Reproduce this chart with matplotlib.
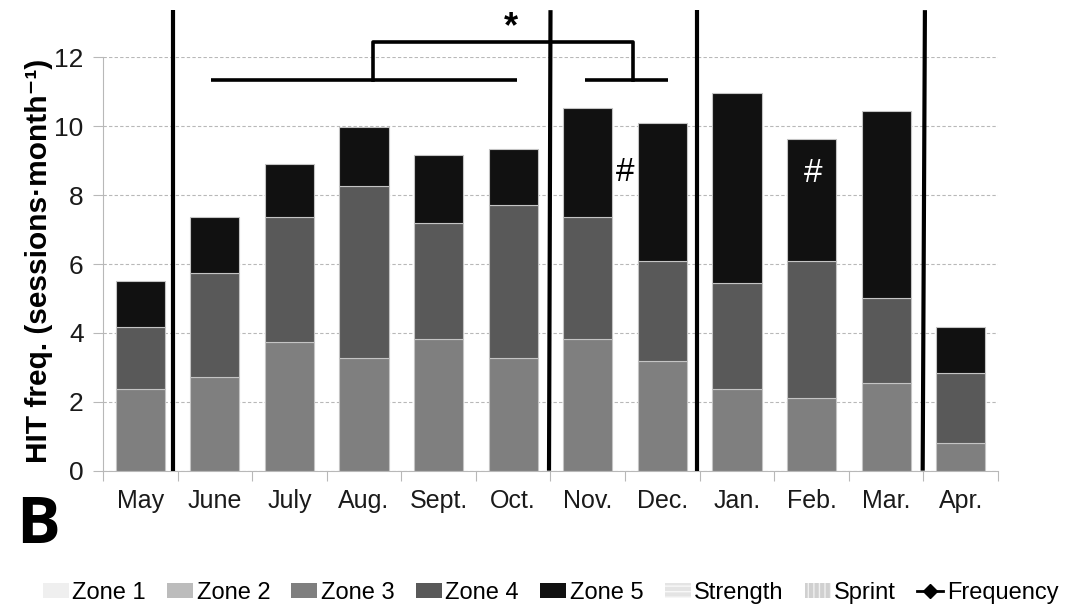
from matplotlib import pyplot as plt
from matplotlib.patches import Patch
from matplotlib.lines import Line2D
import numpy as np

months = ['May', 'June', 'July', 'Aug.', 'Sept.', 'Oct.', 'Nov.', 'Dec.', 'Jan.', 'Feb.', 'Mar.', 'Apr.']
# cumulative tops, turned into per-zone heights below
zone1 = [0, 0, 0, 0, 0, 0, 0, 0, 0, 0, 0, 0]
zone2 = [0, 0, 0, 0, 0, 0, 0, 0, 0, 0, 0, 0]
zone3 = [2.37, 2.73, 3.73, 3.26, 3.81, 3.26, 3.81, 3.18, 2.37, 2.10, 2.55, 0.81]
zone4 = [1.81, 3.00, 3.63, 5.00, 3.37, 4.45, 3.56, 2.91, 3.07, 3.98, 2.45, 2.02]
zone5 = [1.34, 1.63, 1.53, 1.71, 1.98, 1.63, 3.15, 3.99, 5.53, 3.55, 5.44, 1.35]

zone_names = ['Zone 1', 'Zone 2', 'Zone 3', 'Zone 4', 'Zone 5']
zone_cols = ['#efefef', '#bcbcbc', '#7f7f7f', '#595959', '#111111']

# period separators (x top, x bottom) and significance brackets, in category units
separators = [(0.44, 0.44), (5.50, 5.48), (7.46, 7.46), (10.52, 10.49)]
sep_top = 13.37
brk_low_left = (0.95, 5.05)
brk_low_right = (5.96, 7.07)
brk_low_y = 11.34
brk_high = (3.12, 6.60)
brk_high_y = 12.44

plt.rcParams['font.family'] = ['Liberation Sans', 'DejaVu Sans']

fig = plt.figure(figsize=(10.65, 6.10), dpi=100)
ax = fig.add_axes([0.0967, 0.2284, 0.8404, 0.6776])

x = np.arange(len(months))
bottom = np.zeros(len(months))
for name, vals, col in zip(zone_names, [zone1, zone2, zone3, zone4, zone5], zone_cols):
	vals = np.array(vals)
	ax.bar(x, vals, 0.66, bottom=bottom, color=col, edgecolor='#c4c4c4', linewidth=0.8, zorder=2)
	bottom += vals

ax.set_xlim(-0.5, 11.5)
ax.set_ylim(0, 12)
ax.set_yticks(np.arange(0, 13, 2))
ax.set_xticks(x)
ax.set_xticklabels(months)
ax.set_xticks(np.arange(-0.5, 12, 1), minor=True)
ax.tick_params(axis='x', which='major', length=0, pad=13, labelsize=18, labelcolor='#1a1a1a')
ax.tick_params(axis='x', which='minor', length=7, color='#b8b8b8', width=0.8)
ax.tick_params(axis='y', length=7, color='#b8b8b8', width=0.8, pad=7, labelsize=19, labelcolor='#1a1a1a')
ax.yaxis.grid(True, linestyle=(0, (3, 2)), color='#b8b8b8', linewidth=0.8)
ax.set_axisbelow(True)
ax.spines['top'].set_visible(False)
ax.spines['right'].set_visible(False)
ax.spines['left'].set_color('#b8b8b8')
ax.spines['bottom'].set_color('#b8b8b8')

for xt, xb in separators:
	ax.plot([xt, xb], [sep_top, 0], color='black', lw=3, clip_on=False, zorder=5, solid_capstyle='butt')

ax.plot(brk_low_left, [brk_low_y, brk_low_y], color='black', lw=2.6, clip_on=False, solid_capstyle='butt')
ax.plot(brk_low_right, [brk_low_y, brk_low_y], color='black', lw=2.6, clip_on=False, solid_capstyle='butt')
ax.plot([brk_high[0], brk_high[0], brk_high[1], brk_high[1]],
	[brk_low_y, brk_high_y, brk_high_y, brk_low_y], color='black', lw=2.6, clip_on=False)
ax.text(4.97, 12.85, '*', ha='center', va='center', fontsize=26, fontweight='bold')

ax.text(6.5, 8.65, '#', ha='center', va='center', fontsize=24, color='black', zorder=6)
ax.text(9.02, 8.63, '#', ha='center', va='center', fontsize=24, color='white', zorder=6)

fig.text(0.037, 0.572, 'HIT freq. (sessions·month⁻¹)', rotation=90, ha='center', va='center',
	fontsize=21.5, fontweight='bold')
fig.text(0.015, 0.11, 'B', fontsize=47, fontweight='bold', family=['Open Sans', 'DejaVu Sans'])

handles = [Patch(facecolor=c, edgecolor='none') for c in zone_cols]
handles.append(Patch(facecolor='#e4e4e4', edgecolor='#f8f8f8', hatch='---', linewidth=0))
handles.append(Patch(facecolor='#d0d0d0', edgecolor='#f0f0f0', hatch='|||', linewidth=0))
handles.append(Line2D([], [], color='black', lw=2, marker='D', markersize=7))
labels = zone_names + ['Strength', 'Sprint', 'Frequency']
fig.legend(handles, labels, loc='center', bbox_to_anchor=(0.517, 0.028), ncol=8, frameon=False,
	fontsize=17, handlelength=1.1, handleheight=0.55, handletextpad=0.15, columnspacing=0.9)

plt.savefig('out.png', dpi=100)
